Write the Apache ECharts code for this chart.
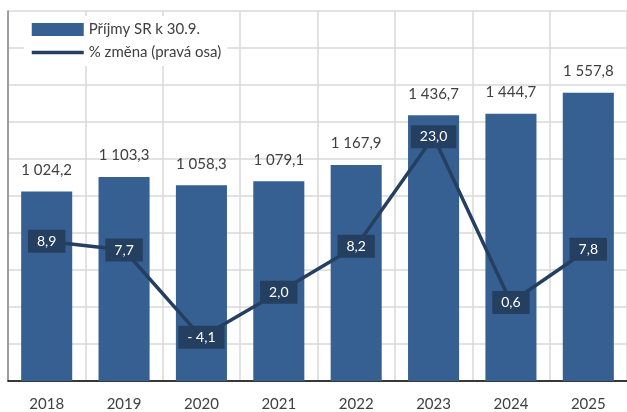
<!DOCTYPE html>
<html>
<head>
<meta charset="utf-8">
<script src="https://cdn.jsdelivr.net/npm/echarts@6/dist/echarts.min.js"></script>
<style>html,body{margin:0;padding:0;background:#fff}#c{width:627px;height:412px}</style>
</head>
<body>
<div id="c"></div>
<script>
const categories = ['2018','2019','2020','2021','2022','2023','2024','2025'];
const revenues = [1024.2, 1103.3, 1058.3, 1079.1, 1167.9, 1436.7, 1444.7, 1557.8];
const changes = [8.9, 7.7, -4.1, 2.0, 8.2, 23.0, 0.6, 7.8];
const seriesNames = ['Příjmy SR k 30.9.', '% změna (pravá osa)'];

function fmt(v) {
  const neg = v < 0;
  const s = Math.abs(v).toFixed(1).split('.');
  const intPart = s[0].replace(/\B(?=(\d{3})+(?!\d))/g, ' ');
  return (neg ? '- ' : '') + intPart + ',' + s[1];
}

const FONT = 'Lato, "Open Sans", sans-serif';
const chart = echarts.init(document.getElementById('c'), null, {renderer: 'canvas'});
chart.setOption({
  animation: false,
  textStyle: {fontFamily: FONT},
  grid: {left: 8, right: -4, top: 11, bottom: 30, containLabel: false},
  legend: {
    orient: 'vertical', left: 24, top: 16, itemGap: 8,
    itemWidth: 52, itemHeight: 13,
    backgroundColor: '#fff', padding: [6, 6, 6, 6],
    textStyle: {fontSize: 15, color: '#404040', fontFamily: FONT},
    data: [
      {name: seriesNames[0], icon: 'rect'},
      {name: seriesNames[1], itemStyle: {opacity: 0}, lineStyle: {width: 3.5, color: '#243f60'}}
    ]
  },
  xAxis: {
    type: 'category', data: categories,
    axisLine: {lineStyle: {color: '#000', width: 1.5}},
    axisTick: {show: false},
    axisLabel: {fontSize: 15, color: '#404040', margin: 16, fontFamily: FONT},
    splitLine: {show: true, interval: 0, lineStyle: {color: '#d9d9d9', width: 1.5}}
  },
  yAxis: [
    {type: 'value', min: 0, max: 2000, interval: 200,
     axisLine: {show: true, lineStyle: {color: '#868686', width: 1.5}},
     axisTick: {show: false}, axisLabel: {show: false},
     splitLine: {show: true, lineStyle: {color: '#d9d9d9', width: 1.5}}},
    {type: 'value', min: -10, max: 40, interval: 5,
     axisLine: {show: false}, axisTick: {show: false}, axisLabel: {show: false},
     splitLine: {show: false}}
  ],
  series: [
    {name: seriesNames[0], type: 'bar', data: revenues, barCategoryGap: '34%',
     itemStyle: {color: '#376092'},
     label: {show: true, position: 'top', distance: 14, fontSize: 15, color: '#404040',
             fontFamily: FONT, formatter: p => fmt(p.value)}},
    {name: seriesNames[1], type: 'line', yAxisIndex: 1, data: changes,
     symbol: 'circle', symbolSize: 2, showSymbol: true, showAllSymbol: true,
     lineStyle: {color: '#243f60', width: 3.5}, itemStyle: {color: '#243f60'},
     label: {show: true, position: 'inside', fontSize: 14, color: '#fff', fontFamily: FONT,
             backgroundColor: '#243f60', padding: [5, 9, 4, 9],
             formatter: p => fmt(p.value)},
     labelLayout: {hideOverlap: false},
     z: 5}
  ]
});
</script>
</body>
</html>
